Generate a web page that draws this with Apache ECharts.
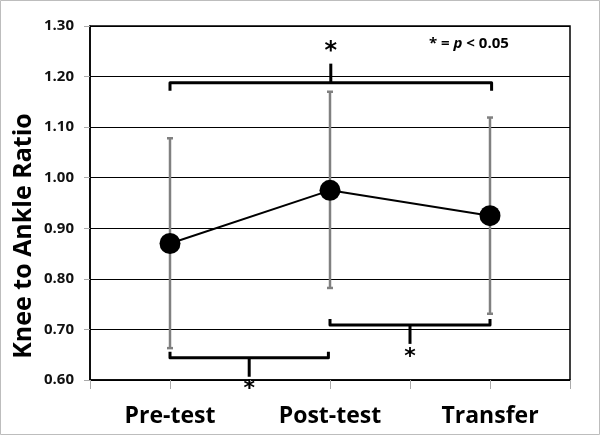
<!DOCTYPE html>
<html>
<head>
<meta charset="utf-8">
<script src="https://cdn.jsdelivr.net/npm/echarts@6/dist/echarts.min.js"></script>
<style>
html,body{margin:0;padding:0;background:#fff;}
#chart{width:600px;height:435px;}
</style>
</head>
<body>
<div id="chart"></div>
<script>
// groups on the x axis (placed at 1, 3, 5)
var groups = ["Pre-test", "Post-test", "Transfer"];
var groupPos = [1, 3, 5];
var means = [0.87, 0.975, 0.925];
var errLow = [0.663, 0.782, 0.731];
var errHigh = [1.078, 1.170, 1.119];

// significance brackets: from, to, level, direction of the centre tick (1 up, -1 down)
var bracketFrom = [1, 1, 3];
var bracketTo = [5.02, 2.98, 5];
var bracketLevel = [1.188, 0.644, 0.709];
var bracketDir = [1, -1, -1];

var chart = echarts.init(document.getElementById("chart"));

var lineData = [], errData = [], brData = [];
for (var i = 0; i < groups.length; i++) {
    lineData.push([groupPos[i], means[i]]);
    errData.push([groupPos[i], errLow[i], errHigh[i]]);
}
for (var j = 0; j < bracketFrom.length; j++) {
    brData.push([bracketFrom[j], bracketTo[j], bracketLevel[j], bracketDir[j]]);
}

var option = {
    animation: false,
    backgroundColor: "#fff",
    textStyle: { fontFamily: "Open Sans, sans-serif" },
    grid: {
        left: 90, right: 30, top: 26, bottom: 55,
        show: true, borderColor: "#000", borderWidth: 1.5
    },
    xAxis: {
        type: "value",
        min: 0, max: 6, interval: 1,
        axisLine: { show: true, lineStyle: { color: "#000", width: 1.5 } },
        axisTick: { show: true, length: 9, lineStyle: { color: "#aaa", width: 1 } },
        splitLine: { show: false },
        axisLabel: {
            margin: 25,
            fontSize: 23, fontWeight: "bold", color: "#000",
            fontFamily: "Open Sans, sans-serif",
            formatter: function (v) {
                var k = groupPos.indexOf(v);
                return k >= 0 ? groups[k] : "";
            }
        }
    },
    yAxis: {
        type: "value",
        min: 0.6, max: 1.3, interval: 0.1,
        axisLine: { show: true, lineStyle: { color: "#000", width: 1.5 } },
        axisTick: { show: true, length: 6, lineStyle: { color: "#aaa" } },
        splitLine: { show: true, lineStyle: { color: "#000", width: 1 } },
        axisLabel: {
            margin: 16,
            fontSize: 15, fontWeight: "bold", color: "#111",
            fontFamily: "Open Sans, sans-serif",
            formatter: function (v) { return v.toFixed(2); }
        }
    },
    graphic: [{
        type: "rect",
        shape: { x: 0.5, y: 0.5, width: 599, height: 434 },
        style: { fill: "none", stroke: "#bdbdbd", lineWidth: 1 },
        silent: true
    }, {
        type: "text",
        x: 24, y: 236,
        rotation: Math.PI / 2,
        style: {
            text: "Knee to Ankle Ratio",
            align: "center", verticalAlign: "middle",
            font: "bold 25px Open Sans, sans-serif",
            fill: "#000"
        }
    }, {
        type: "text",
        left: 429, top: 36,
        style: {
            text: "* = {i|p} < 0.05",
            font: "bold 15px Open Sans, sans-serif",
            fill: "#000",
            rich: { i: { fontStyle: "italic", fontWeight: "bold", fontSize: 15, fontFamily: "Open Sans, sans-serif" } }
        }
    }],
    series: [{
        type: "custom",
        name: "error",
        z: 2,
        data: errData,
        renderItem: function (params, api) {
            var lo = api.coord([api.value(0), api.value(1)]);
            var hi = api.coord([api.value(0), api.value(2)]);
            var st = { stroke: "#808080", lineWidth: 2.5 };
            var cap = 3;
            return {
                type: "group",
                children: [
                    { type: "line", shape: { x1: lo[0], y1: lo[1], x2: hi[0], y2: hi[1] }, style: st },
                    { type: "line", shape: { x1: lo[0] - cap, y1: lo[1], x2: lo[0] + cap, y2: lo[1] }, style: st },
                    { type: "line", shape: { x1: hi[0] - cap, y1: hi[1], x2: hi[0] + cap, y2: hi[1] }, style: st }
                ]
            };
        }
    }, {
        type: "line",
        name: "mean",
        z: 3,
        data: lineData,
        symbol: "circle",
        symbolSize: 21,
        itemStyle: { color: "#000" },
        lineStyle: { color: "#000", width: 2 }
    }, {
        type: "custom",
        name: "brackets",
        z: 4,
        clip: false,
        data: brData,
        renderItem: function (params, api) {
            var a = api.coord([api.value(0), api.value(2)]);
            var b = api.coord([api.value(1), api.value(2)]);
            var dir = api.value(3);
            var hook = dir > 0 ? 8 : -6;
            var mid = (a[0] + b[0]) / 2;
            var tickLen = 19;
            var tipY = a[1] - dir * tickLen;
            var st = { stroke: "#000", lineWidth: 3, fill: "none", lineJoin: "round" };
            var starY = dir > 0 ? tipY - 12 : tipY + 13;
            return {
                type: "group",
                children: [
                    { type: "polyline", shape: { points: [[a[0], a[1] + hook], [a[0], a[1]], [b[0], b[1]], [b[0], b[1] + hook]] }, style: st },
                    { type: "line", shape: { x1: mid, y1: a[1], x2: mid, y2: tipY }, style: st },
                    { type: "text", style: {
                        text: "*", x: mid, y: starY,
                        align: "center", verticalAlign: "middle",
                        font: (dir > 0 ? "bold 24px" : "bold 22px") + " DejaVu Sans, sans-serif",
                        fill: "#000"
                    } }
                ]
            };
        }
    }]
};

chart.setOption(option);
</script>
</body>
</html>
